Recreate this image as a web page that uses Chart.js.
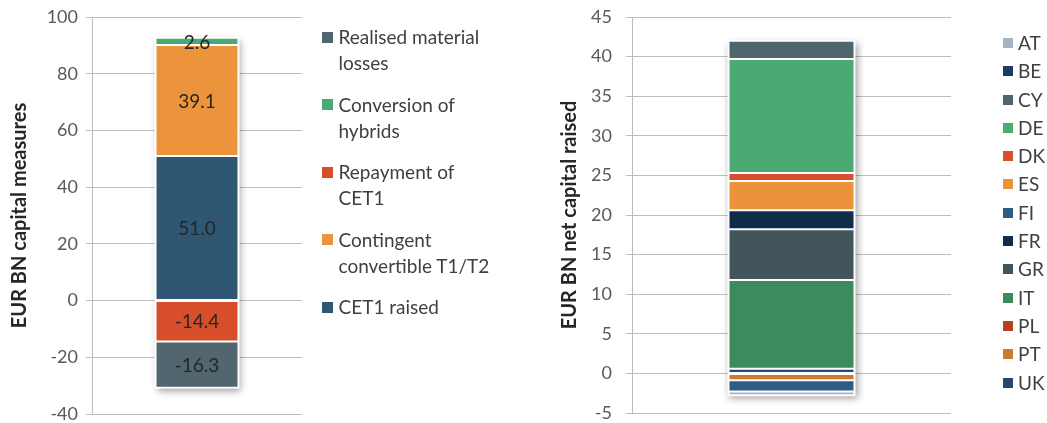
<!DOCTYPE html>
<html><head><meta charset="utf-8">
<script src="https://cdn.jsdelivr.net/npm/chart.js@4.4.1/dist/chart.umd.min.js"></script>
<style>
html,body{margin:0;padding:0;background:#fff;overflow:hidden;width:1047px;height:423px;}
.wrap{position:absolute;top:0;height:423px;}
#w1{left:0;width:530px;}
#w2{left:530px;width:517px;}
.legend{position:absolute;font-family:Lato,"Open Sans",sans-serif;color:#404040;font-size:19px;white-space:nowrap;}
.legend .item{position:relative;}
.legend .sw{position:absolute;left:0;}
#lg1 .item{line-height:26px;margin-bottom:15.5px;padding-left:16.5px;}
#lg1 .sw{width:11px;height:11px;top:7.5px;}
#lg2 .item{line-height:28.3px;padding-left:15px;}
#lg2 .sw{width:10px;height:10px;top:9px;}
</style></head>
<body>
<div class="wrap" id="w1"><canvas id="c1"></canvas></div>
<div class="wrap" id="w2"><canvas id="c2"></canvas></div>
<div class="legend" id="lg1" style="left:322px;top:24px;"></div>
<div class="legend" id="lg2" style="left:1003px;top:29px;"></div>
<script>
// ---------- Left chart data ----------
const capitalCategories = [''];
const capitalSeries = ['CET1 raised', 'Contingent convertible T1/T2', 'Repayment of CET1', 'Conversion of hybrids', 'Realised material losses'];
const capitalLegendLines = [['CET1 raised'], ['Contingent', 'convertible T1/T2'], ['Repayment of', 'CET1'], ['Conversion of', 'hybrids'], ['Realised material', 'losses']];
const capitalValues = [51.0, 39.1, -14.4, 2.6, -16.3];
const capitalColors = ['#2f5673', '#eb943b', '#d64f2a', '#49a874', '#51666e'];
const capitalTicks = [-40, -20, 0, 20, 40, 60, 80, 100];
const capitalAxisTitle = 'EUR BN capital measures';

// ---------- Right chart data ----------
const countryCategories = [''];
const countries = ['UK', 'PT', 'PL', 'IT', 'GR', 'FR', 'FI', 'ES', 'DK', 'DE', 'CY', 'BE', 'AT'];
const countryValues = [0.6, -0.85, 0, 11.2, 6.4, 2.4, -1.45, 3.7, 1.0, 14.4, 2.3, 0, -0.45];
const countryColors = ['#24496e', '#cc7a30', '#b84024', '#3c8a5e', '#43545c', '#0f2d4b', '#2e5c84', '#eb933a', '#d8502b', '#4aaa72', '#50656e', '#1a3d63', '#a6b4c2'];
const countryTicks = [-5, 0, 5, 10, 15, 20, 25, 30, 35, 40, 45];
const countryAxisTitle = 'EUR BN net capital raised';

const FONT = 'Lato, "Open Sans", sans-serif';

const shadowPlugin = {
  id: 'stackShadow',
  beforeDatasetsDraw(chart) {
    let l = Infinity, r = -Infinity, t = Infinity, b = -Infinity;
    chart.data.datasets.forEach((ds, i) => {
      chart.getDatasetMeta(i).data.forEach(el => {
        const p = el.getProps(['x', 'y', 'base', 'width'], true);
        l = Math.min(l, p.x - p.width / 2); r = Math.max(r, p.x + p.width / 2);
        t = Math.min(t, p.y, p.base); b = Math.max(b, p.y, p.base);
      });
    });
    const ctx = chart.ctx;
    ctx.save();
    ctx.shadowColor = 'rgba(0,0,0,0.35)';
    ctx.shadowBlur = 7;
    ctx.shadowOffsetX = 2;
    ctx.shadowOffsetY = 3;
    ctx.fillStyle = '#fff';
    ctx.fillRect(l - 1, t - 1, r - l + 2, b - t + 2);
    ctx.restore();
  }
};

const labelPlugin = {
  id: 'segLabels',
  afterDatasetsDraw(chart) {
    const ctx = chart.ctx;
    ctx.save();
    ctx.font = '19px ' + FONT;
    ctx.fillStyle = '#262626';
    ctx.textAlign = 'center';
    ctx.textBaseline = 'middle';
    chart.data.datasets.forEach((ds, i) => {
      chart.getDatasetMeta(i).data.forEach((el, j) => {
        const p = el.getProps(['x', 'y', 'base'], true);
        ctx.fillText(ds.data[j].toFixed(1), p.x, (p.y + p.base) / 2 + 1);
      });
    });
    ctx.restore();
  }
};

function yAxis(ticks, title, width, tickPad, titlePad) {
  return {
    stacked: true,
    min: ticks[0], max: ticks[ticks.length - 1],
    afterBuildTicks: s => { s.ticks = ticks.map(v => ({value: v})); },
    afterFit: s => { s.width = width; s.paddingTop = 0; s.paddingBottom = 0; },
    ticks: {color: '#595959', font: {family: FONT, size: 18}, padding: tickPad},
    grid: {color: '#bdbdbd', lineWidth: 1, tickLength: 6, drawTicks: true},
    border: {color: '#bdbdbd', width: 1},
    title: {display: true, text: title, color: '#262626', font: {family: FONT, size: 20, weight: 'bold'}, padding: {top: titlePad, bottom: 0}}
  };
}

function makeChart(id, cats, names, values, colors, ticks, title, opts, plugins) {
  return new Chart(document.getElementById(id), {
    type: 'bar',
    data: {
      labels: cats,
      datasets: names.map((n, i) => ({
        label: n, data: [values[i]], backgroundColor: colors[i],
        borderColor: '#ffffff', borderWidth: 1, borderSkipped: false,
        barPercentage: 0.395, categoryPercentage: 1
      }))
    },
    options: {
      responsive: true, maintainAspectRatio: false, animation: false,
      devicePixelRatio: 1,
      layout: {padding: opts.padding},
      plugins: {legend: {display: false}, tooltip: {enabled: false}},
      scales: {
        x: {stacked: true, display: false},
        y: yAxis(ticks, title, opts.axisWidth, opts.tickPad, opts.titlePad)
      }
    },
    plugins: plugins
  });
}

function htmlLegend(id, names, colors, linesFor) {
  const el = document.getElementById(id);
  for (let i = names.length - 1; i >= 0; i--) {
    const item = document.createElement('div');
    item.className = 'item';
    const sw = document.createElement('span');
    sw.className = 'sw';
    sw.style.background = colors[i];
    item.appendChild(sw);
    const lines = linesFor(i);
    lines.forEach((ln, k) => {
      if (k) item.appendChild(document.createElement('br'));
      item.appendChild(document.createTextNode(ln));
    });
    el.appendChild(item);
  }
}

makeChart('c1', capitalCategories, capitalSeries, capitalValues, capitalColors, capitalTicks, capitalAxisTitle,
  {padding: {top: 17, bottom: 9, left: 0, right: 228}, axisWidth: 92, tickPad: 8, titlePad: 8},
  [shadowPlugin, labelPlugin]);
makeChart('c2', countryCategories, countries, countryValues, countryColors, countryTicks, countryAxisTitle,
  {padding: {top: 17, bottom: 10, left: 0, right: 96}, axisWidth: 102, tickPad: 14, titlePad: 28},
  [shadowPlugin]);

htmlLegend('lg1', capitalSeries, capitalColors, i => capitalLegendLines[i]);
htmlLegend('lg2', countries, countryColors, i => [countries[i]]);
</script>
</body></html>
